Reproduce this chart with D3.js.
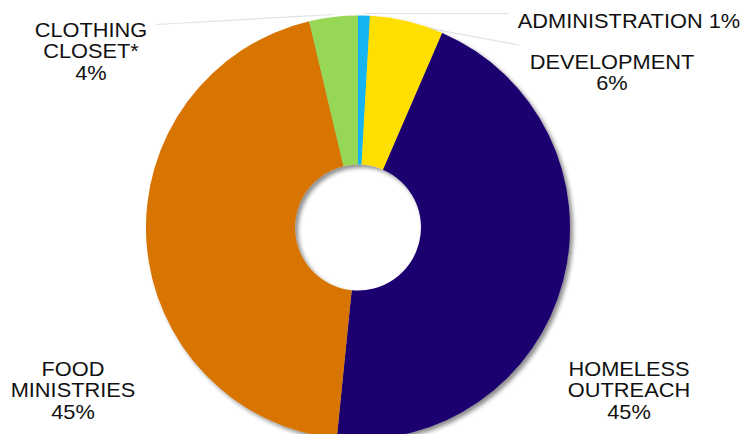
<!DOCTYPE html>
<html>
<head>
<meta charset="utf-8">
<script src="https://cdn.jsdelivr.net/npm/d3@7"></script>
<style>
  html, body { margin: 0; padding: 0; background: #fff; }
  svg { display: block; }
</style>
</head>
<body>
<script>
// slice data, clockwise from 12 o'clock
var categories = ["ADMINISTRATION", "DEVELOPMENT", "HOMELESS OUTREACH", "FOOD MINISTRIES", "CLOTHING CLOSET*"];
var values = [0.9, 5.6, 45.1, 44.7, 3.7];
var colors = ["#12b5f2", "#ffdf00", "#1e0070", "#d87400", "#96d756"];
// how each category name is broken over lines in its label
var nameLines = [["ADMINISTRATION"], ["DEVELOPMENT"], ["HOMELESS", "OUTREACH"], ["FOOD", "MINISTRIES"], ["CLOTHING", "CLOSET*"]];

var width = 752, height = 434;
var cx = 358, cy = 227.5;
var outerR = 212, innerR = 63;

// label anchor (center x, first baseline) and whether the percent sits on the same line
var labelPos = [
    {x: 629, y: 27.5, inline: true},
    {x: 612, y: 68.5},
    {x: 629, y: 376},
    {x: 73, y: 376},
    {x: 91, y: 37}
];
// leader lines: from label to slice edge
var leaders = [
    [[509, 13.5], [364, 13.5]],
    [[519, 45], [406, 24]],
    null,
    null,
    [[156, 24.5], [333, 14.5]]
];

var svg = d3.create("svg")
    .attr("width", width)
    .attr("height", height);

var defs = svg.append("defs");
defs.append("filter")
    .attr("id", "shadow")
    .attr("x", "-20%").attr("y", "-20%")
    .attr("width", "140%").attr("height", "140%")
    .append("feDropShadow")
    .attr("dx", 3).attr("dy", 3)
    .attr("stdDeviation", 2)
    .attr("flood-color", "#000")
    .attr("flood-opacity", 0.45);

var total = d3.sum(values);
var pie = d3.pie().sort(null).value(d => d);
var arc = d3.arc().innerRadius(innerR).outerRadius(outerR);
var arcs = pie(values);

// leader lines sit under the ring
svg.append("g")
    .attr("stroke", "#e2e2e2")
    .attr("stroke-width", 1.2)
    .attr("fill", "none")
    .selectAll("line")
    .data(leaders.filter(d => d))
    .join("line")
    .attr("x1", d => d[0][0]).attr("y1", d => d[0][1])
    .attr("x2", d => d[1][0]).attr("y2", d => d[1][1]);

svg.append("g")
    .attr("transform", `translate(${cx},${cy})`)
    .attr("filter", "url(#shadow)")
    .selectAll("path")
    .data(arcs)
    .join("path")
    .attr("fill", (d, i) => colors[i])
    .attr("d", arc);

var labels = svg.append("g")
    .attr("font-family", "'Liberation Sans', Arial, sans-serif")
    .attr("font-size", 20)
    .attr("fill", "#111")
    .attr("text-anchor", "middle")
    .selectAll("g")
    .data(categories)
    .join("g")
    .attr("transform", (d, i) => `translate(${labelPos[i].x},${labelPos[i].y}) scale(1.09,1)`);

labels.each(function (d, i) {
    var pct = Math.round(values[i] / total * 100) + "%";
    var lines = nameLines[i].slice();
    if (labelPos[i].inline) lines[lines.length - 1] += " " + pct;
    else lines.push(pct);
    d3.select(this).selectAll("text")
        .data(lines)
        .join("text")
        .attr("y", (t, j) => j * 21.3)
        .text(t => t);
});

document.body.append(svg.node());
</script>
</body>
</html>
